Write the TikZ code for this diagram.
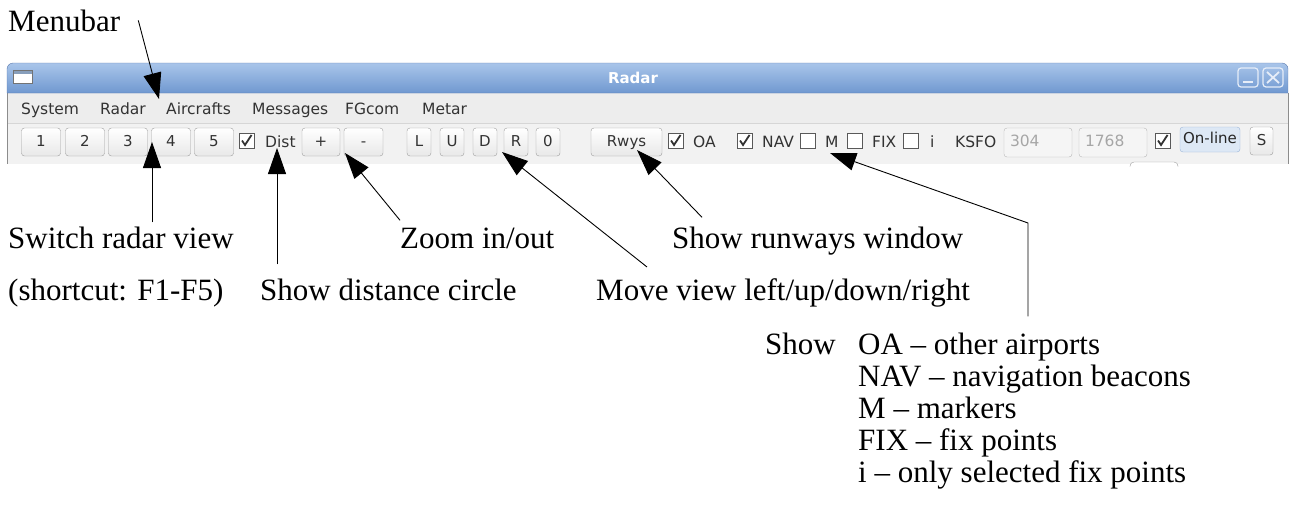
\documentclass[tikz,border=0pt]{standalone}
\usepackage{fontspec}
\setmainfont{Liberation Serif}
\newfontfamily\guifont{DejaVu Sans}
\usetikzlibrary{arrows.meta}

\definecolor{bartop}{HTML}{A9C5EA}
\definecolor{barbot}{HTML}{7098D0}
\definecolor{barline}{HTML}{5A79AC}
\definecolor{barbtn}{HTML}{E6EDF8}
\definecolor{menubg}{HTML}{EDEDED}
\definecolor{toolbg}{HTML}{F2F2F2}
\definecolor{onlinebg}{HTML}{DDE8F5}
\definecolor{onlineline}{HTML}{9DB6D8}

\tikzset{
    lbl/.style={anchor=base west, inner sep=0pt, font=\fontsize{31}{32}\selectfont},
    callout/.style={-{Triangle[length=26pt,width=18pt]}, line width=0.9pt},
    guitext/.style={anchor=base west, inner sep=0pt, text=black!80,
        font=\guifont\fontsize{15.5}{16}\selectfont},
    btn/.style={draw=black!38, rounded corners=3pt, top color=white, bottom color=black!9,
        minimum height=28pt, inner sep=0pt, text height=11.5pt, text depth=3pt, text=black!80,
        font=\guifont\fontsize{15}{16}\selectfont},
    chk/.style={draw=black!65, fill=white, minimum size=15pt, inner sep=0pt},
    tick/.style={line width=1.8pt, black!80},
    field/.style={draw=black!28, fill=black!4, rounded corners=3pt, minimum height=29pt,
        text width=56pt, inner xsep=6pt, inner ysep=0pt, align=left, text height=11.5pt,
        text depth=3pt, text=black!35, font=\guifont\fontsize{15.5}{16}\selectfont}
}

\begin{document}
\begin{tikzpicture}[x=1pt, y=-1pt]
    \useasboundingbox (0,0) rectangle (1293,512);

    % window
    \fill[menubg] (7,93) rectangle (1288,123);
    \fill[toolbg] (7,123) rectangle (1288,164);
    \draw[black!16] (7,123.5) -- (1288,123.5);
    \draw[black!45] (7.5,93) -- (7.5,164) (1288.5,93) -- (1288.5,164);
    \shade[top color=bartop, bottom color=barbot, draw=barline]
        (7,93) [rounded corners=6pt] -- (7,63) -- (1288,63) [sharp corners] -- (1288,93) -- cycle;
    \draw[black!55, fill=white] (13,70) rectangle (32,83);
    \fill[bartop!80!black] (13.5,70.5) rectangle (31.5,73.5);
    \node[text=white, font=\guifont\bfseries\fontsize{15}{16}\selectfont] (title) at (633,78) {Radar};
    \draw[barbtn, line width=1.2pt, rounded corners=3pt] (1238,68) rectangle (1258,87);
    \draw[barbtn, line width=2pt] (1243,82) -- (1253,82);
    \draw[barbtn, line width=1.2pt, rounded corners=3pt] (1263,68) rectangle (1283,87);
    \draw[barbtn, line width=1.8pt] (1267,72) -- (1279,83) (1279,72) -- (1267,83);

    % menubar
    \foreach \m/\x in {System/21, Radar/100, Aircrafts/166, Messages/252, FGcom/345, Metar/422}
        \node[guitext] (menu\m) at (\x,114) {\m};

    % toolbar
    \foreach \n/\x in {1/41, 2/85, 3/128, 4/171, 5/214}
        \node[btn, minimum width=39pt] (view\n) at (\x,142) {\n};
    \node[btn, minimum width=38pt] (zin) at (321,142) {+};
    \node[btn, minimum width=39pt] (zout) at (363.5,142) {-};
    \foreach \n/\x in {L/419, U/452, D/485, R/516, 0/548}
        \node[btn, minimum width=24pt] (mv\n) at (\x,142) {\n};
    \node[btn, minimum width=71pt] (rwys) at (626.5,142) {Rwys};
    \foreach \c/\x/\on in {dist/246.5/1, oa/675.5/1, nav/744.5/1, m/807.5/0, fix/854.5/0, i/910.5/0, online/1162.5/1}
        {
            \node[chk] (cb\c) at (\x,140.5) {};
            \ifnum\on=1
                \draw[tick] ([shift={(-4.5,0)}]cb\c.center) -- ++(3,4.5) -- ++(6.5,-10);
            \fi
        }
    \foreach \t/\x in {Dist/265, OA/693, NAV/762, M/825, FIX/872, i/930, KSFO/955}
        \node[guitext] (tb\t) at (\x,147) {\t};
    \node[field] (lat) at (1038,142.5) {304};
    \node[field] (lon) at (1113,142.5) {1768};
    \node[btn, minimum width=60pt, minimum height=25pt, top color=onlinebg, bottom color=onlinebg,
        draw=onlineline, text=black!85] (online) at (1210,139.5) {On-line};
    \node[btn, minimum width=23pt] (send) at (1261.5,141) {S};
    \begin{scope}
        \clip (1100,150) rectangle (1200,166);
        \draw[black!38, fill=white, rounded corners=4pt] (1130,162) rectangle (1178,190);
    \end{scope}

    % labels
    \node[lbl] (menulbl) at (8,31) {Menubar};
    \node[lbl] (viewlbl) at (8,248) {Switch radar view};
    \node[lbl] (keylbl) at (8,300) {(shortcut: F1-F5)};
    \node[lbl] (distlbl) at (260,300) {Show distance circle};
    \node[lbl] (zoomlbl) at (400,248) {Zoom in/out};
    \node[lbl] (rwylbl) at (672,248) {Show runways window};
    \node[lbl] (movelbl) at (596,300) {Move view left/up/down/right};
    \node[lbl] (showlbl) at (765,354) {Show};
    \foreach \k/\t in {1/OA -- other airports, 2/NAV -- navigation beacons, 3/M -- markers,
            4/FIX -- fix points, 5/i -- only selected fix points}
        \node[lbl] (show\k) at (858,{354+32*(\k-1)}) {\t};

    % callouts
    \coordinate (menutip) at (159,99);
    \coordinate (viewtip) at (152,142);
    \coordinate (disttip) at (277,148);
    \coordinate (zoomtip) at (345,153);
    \coordinate (movetip) at (502,152);
    \coordinate (rwystip) at (637,150);
    \coordinate (showtip) at (830,153);
    \coordinate (showbend) at (1028,223);

    \draw[callout] ([xshift=18pt]menulbl.east) -- (menutip);
    \draw[callout] ([yshift=4pt]viewlbl.north -| viewtip) -- (viewtip);
    \draw[callout] ([yshift=14pt]distlbl.north -| disttip) -- (disttip);
    \draw[callout] ([yshift=7pt]zoomlbl.north west) -- (zoomtip);
    \draw[callout] ([xshift=51pt,yshift=11pt]movelbl.north west) -- (movetip);
    \draw[callout] ([xshift=30pt,yshift=9pt]rwylbl.north west) -- (rwystip);
    \draw[callout] ([yshift=16pt]show1.north -| showbend) -- (showbend) -- (showtip);

\end{tikzpicture}
\end{document}
